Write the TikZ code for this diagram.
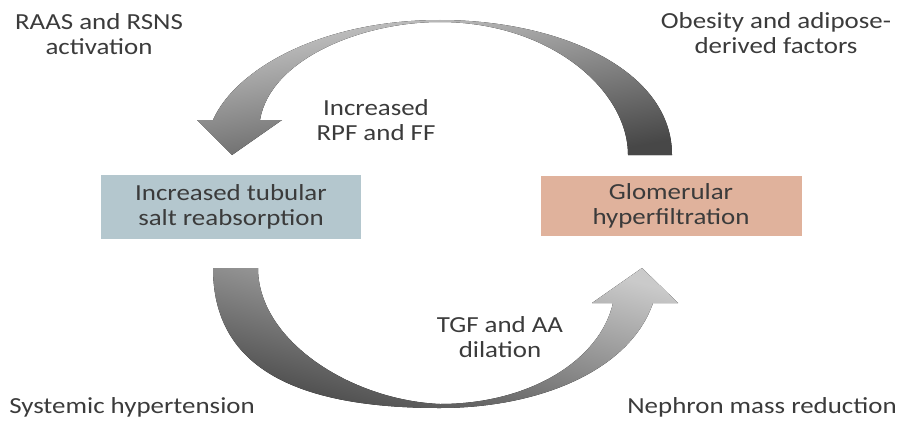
\documentclass[tikz,border=0pt]{standalone}
\usepackage{fontspec}
\setmainfont{Carlito}[FakeStretch=1.17]
\definecolor{tubul}{HTML}{B4C7CE}
\definecolor{glom}{HTML}{E0B29C}
\definecolor{schrift}{HTML}{3B3B3B}
\definecolor{pfeilh}{HTML}{CACACA}
\definecolor{pfeild}{HTML}{474747}
\tikzset{
  txt/.style={align=center,inner sep=0pt,text=schrift,font=\fontsize{23}{25}\selectfont},
  kasten/.style={txt,minimum width=260pt,minimum height=64pt},
  bogen/.style={top color=pfeilh,bottom color=pfeild},
}

\begin{document}
\begin{tikzpicture}[x=1pt,y=-1pt]
  \useasboundingbox (0,0) rectangle (901,420);
  \fill[bogen,shading angle=10] (672,155) -- (628,155)
    .. controls (628,90) and (550,22) .. (440,22)
    .. controls (360,22) and (270,60) .. (260,120)
    -- (282,120) -- (232,155) -- (197,120) -- (213,120)
    .. controls (235,70) and (320,20) .. (440,20)
    .. controls (560,20) and (672,70) .. (672,155) -- cycle;
  \fill[bogen,shading angle=-15] (213,268) -- (258,268)
    .. controls (258,340) and (350,400) .. (440,404)
    .. controls (530,404) and (600,360) .. (613,303)
    -- (592,303) -- (642,268) -- (678,303) -- (653,303)
    .. controls (630,370) and (540,408) .. (440,408)
    .. controls (300,408) and (213,370) .. (213,268) -- cycle;
  \node[txt] (raas) at (99,34) {RAAS and RSNS\\activation};
  \node[txt] (obes) at (776,33) {Obesity and adipose-\\derived factors};
  \node[txt] (rpf) at (376,120) {Increased\\RPF and FF};
  \node[kasten,fill=tubul] (tubular) at (231,207) {Increased tubular\\salt reabsorption};
  \node[kasten,fill=glom,minimum width=261pt,minimum height=60pt] (glomerul) at (671,206) {Glomerular\\hyperfiltration};
  \node[txt] (tgf) at (500,337) {TGF and AA\\dilation};
  \node[txt,anchor=base] (hyper) at (132,413) {Systemic hypertension};
  \node[txt,anchor=base] (nephron) at (762,413) {Nephron mass reduction};
\end{tikzpicture}
\end{document}
